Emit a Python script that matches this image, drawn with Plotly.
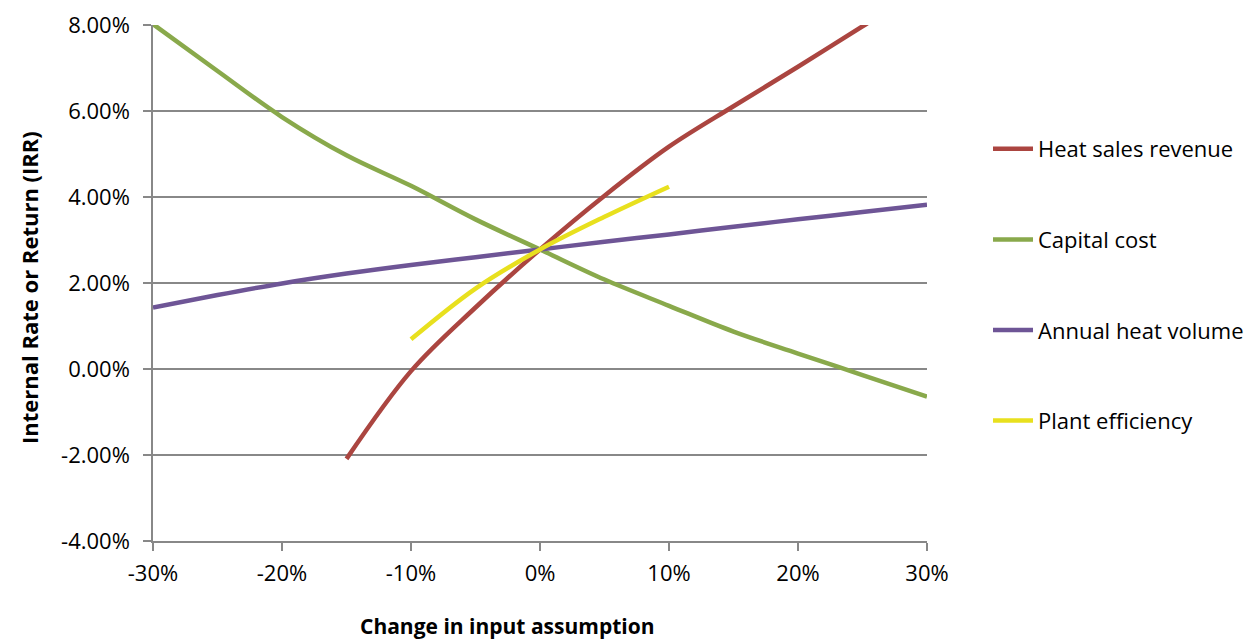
import plotly.graph_objects as go

# Sensitivity of project IRR to changes in key input assumptions
change = [-0.30, -0.25, -0.20, -0.15, -0.10, -0.05, 0.0, 0.05, 0.10, 0.15, 0.20, 0.25, 0.30]

heat_sales_x = [-0.15, -0.10, -0.05, 0.0, 0.05, 0.10, 0.15, 0.20, 0.25, 0.30]
heat_sales_irr = [-0.0209, -0.0005, 0.0143, 0.0278, 0.0403, 0.0517, 0.0611, 0.0703, 0.0797, 0.0888]

capital_cost_irr = [0.0802, 0.0693, 0.0586, 0.0497, 0.0426, 0.0348, 0.0278,
                    0.0208, 0.0147, 0.0087, 0.0036, -0.0014, -0.0064]

heat_volume_irr = [0.0143, 0.0172, 0.0199, 0.0222, 0.0242, 0.0260, 0.0278,
                   0.0296, 0.0313, 0.0331, 0.0348, 0.0365, 0.0382]

efficiency_x = [-0.10, -0.05, 0.0, 0.05, 0.10]
efficiency_irr = [0.0069, 0.0187, 0.0278, 0.0354, 0.0424]

x_ticks = [-0.30, -0.20, -0.10, 0.0, 0.10, 0.20, 0.30]
x_tick_labels = ["-30%", "-20%", "-10%", "0%", "10%", "20%", "30%"]
y_ticks = [-0.04, -0.02, 0.0, 0.02, 0.04, 0.06, 0.08]
y_tick_labels = ["-4.00%", "-2.00%", "0.00%", "2.00%", "4.00%", "6.00%", "8.00%"]

series = [
    ("Heat sales revenue", heat_sales_x, heat_sales_irr, "#AB4540"),
    ("Capital cost", change, capital_cost_irr, "#89A94B"),
    ("Annual heat volume", change, heat_volume_irr, "#6E5596"),
    ("Plant efficiency", efficiency_x, efficiency_irr, "#E8E01E"),
]

FONT = "Open Sans, Lato, DejaVu Sans, sans-serif"
GRID = "#888888"

fig = go.Figure()
for i, (name, xs, ys, color) in enumerate(series):
    fig.add_trace(go.Scatter(
        x=xs, y=ys, name=name, mode="lines",
        line=dict(color=color, width=4.5, shape="spline", smoothing=1),
        legendgroup=f"g{i}",
    ))

fig.update_layout(
    width=1248, height=642,
    margin=dict(l=153, r=321, t=25, b=101, autoexpand=False),
    plot_bgcolor="white", paper_bgcolor="white",
    font=dict(family=FONT, size=22, color="#000000"),
    legend=dict(
        xref="container", yref="container",
        x=988 / 1248, y=1 - 128 / 642,
        xanchor="left", yanchor="top",
        font=dict(family=FONT, size=22, color="#000000"),
        tracegroupgap=59,
        traceorder="grouped",
        itemwidth=40,
        bgcolor="rgba(0,0,0,0)",
    ),
    showlegend=True,
    annotations=[
        dict(text="<b>Change in input assumption</b>", xref="paper", yref="paper",
             x=(507 - 153) / 774, y=-(626 - 541) / 516, xanchor="center", yanchor="middle",
             showarrow=False, font=dict(family=FONT, size=21, color="#000000")),
        dict(text="<b>Internal Rate or Return (IRR)</b>", xref="paper", yref="paper",
             x=-(153 - 29) / 774, y=(541 - 288) / 516, xanchor="center", yanchor="middle",
             textangle=-90, showarrow=False,
             font=dict(family=FONT, size=22, color="#000000")),
    ],
)

fig.update_xaxes(
    range=[-0.30, 0.30], tickvals=x_ticks, ticktext=x_tick_labels,
    showgrid=False, zeroline=False, automargin=False,
    showline=True, linecolor=GRID, linewidth=1.5,
    ticks="outside", ticklen=8, tickwidth=1.5, tickcolor=GRID,
    ticklabelstandoff=4,
)
fig.update_yaxes(
    range=[-0.04, 0.08], tickvals=y_ticks, ticktext=y_tick_labels,
    showgrid=True, gridcolor=GRID, gridwidth=1.5,
    zeroline=False, automargin=False,
    showline=True, linecolor=GRID, linewidth=1.5,
    ticks="outside", ticklen=8, tickwidth=1.5, tickcolor=GRID,
    ticklabelstandoff=9,
)

fig.write_html("out.html")
